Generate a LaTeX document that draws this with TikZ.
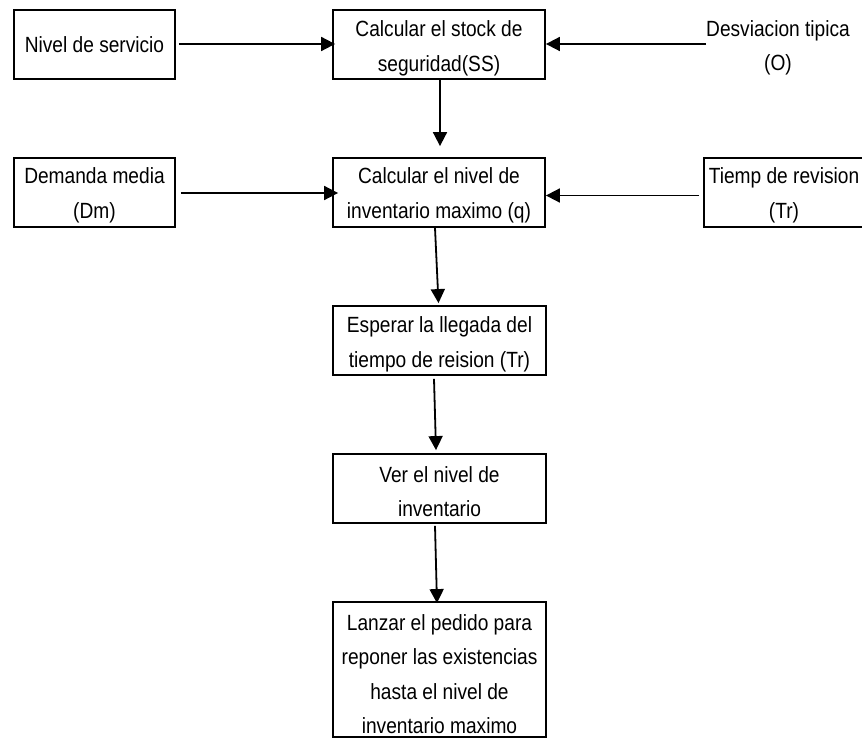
\documentclass[tikz,border=0pt]{standalone}
\usepackage{fontspec}
\setmainfont{Liberation Sans}[FakeStretch=0.87]
\usetikzlibrary{arrows.meta}
\begin{document}
\begin{tikzpicture}[x=1pt,y=1pt,
  box/.style={draw, line width=1.8pt, minimum height=69pt, inner sep=0pt},
  lbl/.style={align=center, inner sep=0pt, font=\fontsize{22}{34.5}\selectfont},
  arr/.style={line width=1.8pt, -{Triangle[length=14pt,width=14pt]}}]
\useasboundingbox (0,0) rectangle (862,-738);
% boxes
\node[box, minimum width=161pt] (nivel) at (94.5,-44.5) {};
\node[box, minimum width=212pt] (ss) at (439,-44.5) {};
\node[box, minimum width=161pt] (dem) at (94.5,-192.5) {};
\node[box, minimum width=212pt] (nq) at (439,-192.5) {};
\node[box, minimum width=160pt] (tiemp) at (784,-192.5) {};
\node[box, minimum width=213pt] (esp) at (439.5,-340.5) {};
\node[box, minimum width=213pt] (ver) at (439.5,-488.5) {};
\node[box, minimum width=213pt, minimum height=135pt] (lanz) at (439.5,-669.5) {};
% texts
\node[lbl] (nivelT) at (nivel.center) {Nivel de servicio};
\node[lbl] (ssT) at ([yshift=-4pt]ss.center) {Calcular el stock de\\seguridad(SS)};
\node[lbl] (desv) at (778,-48) {Desviacion tipica\\(O)};
\node[lbl] (demT) at ([yshift=-3pt]dem.center) {Demanda media\\(Dm)};
\node[lbl] (nqT) at ([yshift=-3pt]nq.center) {Calcular el nivel de\\inventario maximo (q)};
\node[lbl] (tiempT) at ([yshift=-3pt]tiemp.center) {Tiemp de revision\\(Tr)};
\node[lbl] (espT) at ([yshift=-4pt]esp.center) {Esperar la llegada del\\tiempo de reision (Tr)};
\node[lbl] (verT) at ([yshift=-3pt]ver.center) {Ver el nivel de\\inventario};
\node[lbl] (lanzT) at ([yshift=-4.5pt]lanz.center) {Lanzar el pedido para\\reponer las existencias\\hasta el nivel de\\inventario maximo};
% connectors
\draw[arr] ([xshift=3pt,yshift=0.5pt]nivel.east) -- ([xshift=3pt,yshift=0.5pt]ss.west);
\draw[arr] ([yshift=4pt]desv.west) -- ([yshift=4pt]desv.west -| ss.east);
\draw[arr] ([xshift=1pt]ss.south) -- ([xshift=1pt,yshift=11pt]nq.north);
\draw[arr] ([xshift=5pt,yshift=-0.5pt]dem.east) -- ([xshift=6pt,yshift=-0.5pt]nq.west);
\draw[arr] ([xshift=-4pt,yshift=-3pt]tiemp.west) -- ([yshift=-3pt]nq.east);
\draw[arr] ([xshift=-4pt]nq.south) -- ([xshift=-1pt,yshift=2pt]esp.north);
\draw[arr] ([xshift=-5.5pt,yshift=-3pt]esp.south) -- ([xshift=-3.5pt,yshift=3pt]ver.north);
\draw[arr] ([xshift=-4.5pt,yshift=-2pt]ver.south) -- ([xshift=-2.5pt,yshift=-2pt]lanz.north);
\end{tikzpicture}
\end{document}
